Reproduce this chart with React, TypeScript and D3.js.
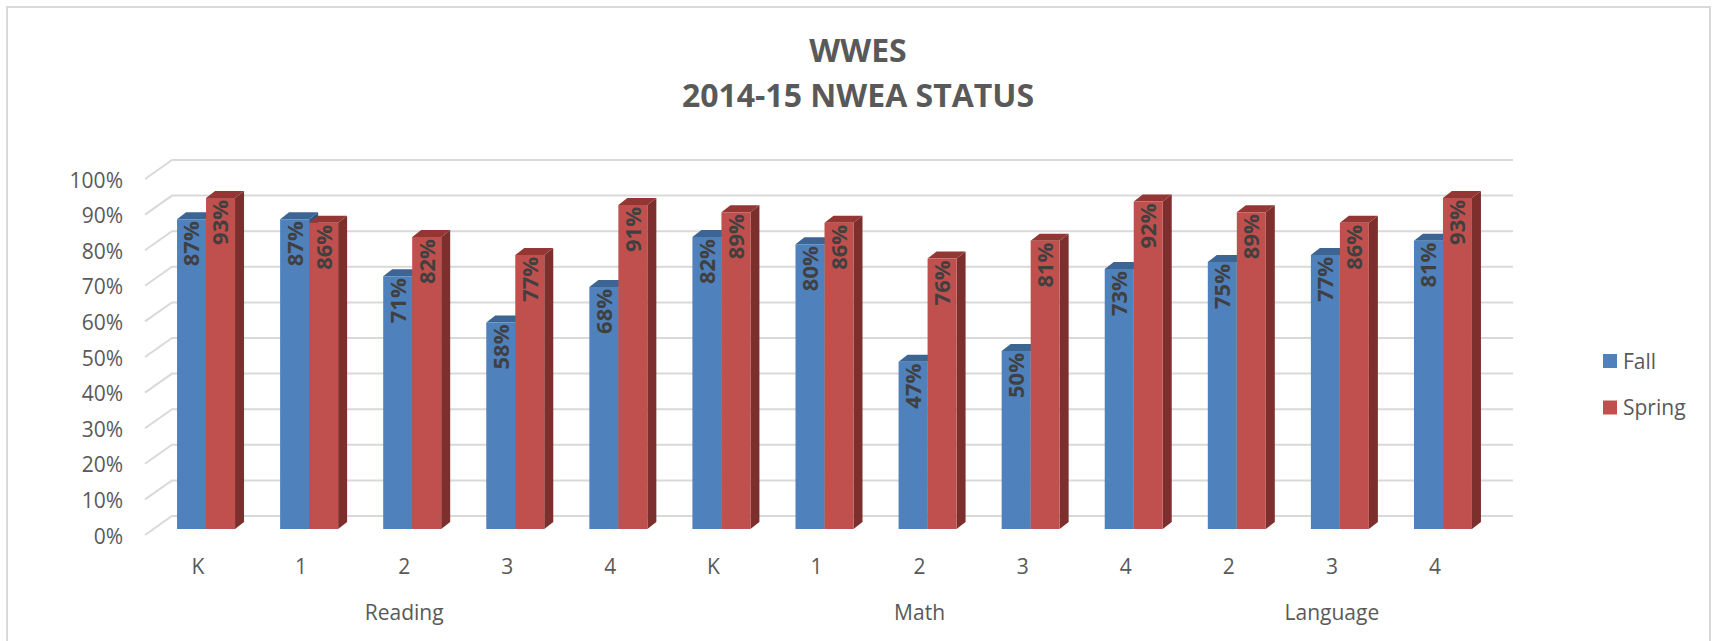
import React from "react";
import * as d3 from "d3";

const subjects = ["Reading", "Math", "Language"];
const grades = ["K", "1", "2", "3", "4", "K", "1", "2", "3", "4", "2", "3", "4"];
const subjectOf = [0, 0, 0, 0, 0, 1, 1, 1, 1, 1, 2, 2, 2];
const fallValues = [87, 87, 71, 58, 68, 82, 80, 47, 50, 73, 75, 77, 81];
const springValues = [93, 86, 82, 77, 91, 89, 86, 76, 81, 92, 89, 86, 93];
const seriesNames = ["Fall", "Spring"];
const yTicks = [0, 10, 20, 30, 40, 50, 60, 70, 80, 90, 100];
const titleLines = ["WWES", "2014-15 NWEA STATUS"];

const W = 1714;
const H = 641;
const FONT = "'Open Sans', 'DejaVu Sans', sans-serif";
const TEXT = "#595959";
const GRID = "#D9D9D9";

const colors = {
  Fall: { front: "#4F81BD", top: "#3C6593", side: "#2F5581" },
  Spring: { front: "#C0504D", top: "#943634", side: "#7C2F2D" },
};

export default function App() {
  const backY = d3.scaleLinear().domain([0, 100]).range([516, 160]);
  const backX0 = 172;
  const backX1 = 1513;
  const wallDx = -27;
  const wallDy = 19;
  const barY = d3.scaleLinear().domain([0, 100]).range([529, 173]);
  const xBand = d3
    .scaleBand<number>()
    .domain(grades.map((_, i) => i))
    .range([154.5, 1494.5]);
  const inner = d3.scaleBand<string>().domain(seriesNames).range([-29, 29]);
  const depthDx = 9;
  const depthDy = -7;

  const center = (i: number) => (xBand(i) as number) + xBand.bandwidth() / 2;
  const labelX = (i: number) => center(i) - 8;

  const subjectCenters = subjects.map((_, s) => {
    const idx = subjectOf.map((v, i) => (v === s ? i : -1)).filter((i) => i >= 0);
    return d3.mean(idx.map(labelX)) as number;
  });

  const bars: React.ReactNode[] = [];
  grades.forEach((_, i) => {
    seriesNames.forEach((name) => {
      const v = name === "Fall" ? fallValues[i] : springValues[i];
      const x0 = center(i) + (inner(name) as number);
      const x1 = x0 + inner.bandwidth();
      const yT = barY(v);
      const yB = barY(0);
      const c = colors[name as "Fall" | "Spring"];
      const front = `M${x0},${yT}L${x1},${yT}L${x1},${yB}L${x0},${yB}Z`;
      const top = `M${x0},${yT}L${x0 + depthDx},${yT + depthDy}L${x1 + depthDx},${yT + depthDy}L${x1},${yT}Z`;
      const side = `M${x1},${yT}L${x1 + depthDx},${yT + depthDy}L${x1 + depthDx},${yB + depthDy}L${x1},${yB}Z`;
      bars.push(
        <g key={`b-${i}-${name}`}>
          <path d={side} fill={c.side} />
          <path d={top} fill={c.top} />
          <path d={front} fill={c.front} />
        </g>
      );
    });
  });

  const labels: React.ReactNode[] = [];
  grades.forEach((_, i) => {
    seriesNames.forEach((name) => {
      const v = name === "Fall" ? fallValues[i] : springValues[i];
      const cx = center(i) + (inner(name) as number) + inner.bandwidth() / 2;
      const yT = barY(v);
      labels.push(
        <text
          key={`l-${i}-${name}`}
          transform={`translate(${cx},${yT}) rotate(-90)`}
          x={-2}
          dy="0.36em"
          textAnchor="end"
          fontFamily={FONT}
          fontWeight={700}
          fontSize={22}
          fill="#404040"
        >
          {`${v}%`}
        </text>
      );
    });
  });

  return (
    <div style={{ position: "absolute", left: 0, top: 0, width: W, height: H, background: "#fff" }}>
      <svg width={W} height={H} viewBox={`0 0 ${W} ${H}`} style={{ display: "block" }}>
        <rect x={0} y={0} width={W} height={H} fill="#fff" />
        <rect x={7} y={7} width={1703} height={700} fill="none" stroke={GRID} strokeWidth={2} />

        {titleLines.map((t, k) => (
          <text
            key={t}
            x={858}
            y={k === 0 ? 61.5 : 107}
            textAnchor="middle"
            fontFamily={FONT}
            fontWeight={700}
            fontSize={32}
            fill={TEXT}
          >
            {t}
          </text>
        ))}

        {yTicks.map((t) => (
          <g key={`g${t}`}>
            <path
              d={`M${backX0 + wallDx},${backY(t) + wallDy}L${backX0},${backY(t)}L${backX1},${backY(t)}`}
              fill="none"
              stroke={GRID}
              strokeWidth={2}
            />
            <text
              x={123}
              y={backY(t) + wallDy + 1}
              dy="0.36em"
              textAnchor="end"
              fontFamily={FONT}
              fontSize={21}
              fill={TEXT}
            >
              {`${t}%`}
            </text>
          </g>
        ))}

        {bars}
        {labels}

        {grades.map((g, i) => (
          <text
            key={`c${i}`}
            x={labelX(i)}
            y={573.5}
            textAnchor="middle"
            fontFamily={FONT}
            fontSize={21}
            fill={TEXT}
          >
            {g}
          </text>
        ))}
        {subjects.map((s, k) => (
          <text
            key={s}
            x={subjectCenters[k]}
            y={619.5}
            textAnchor="middle"
            fontFamily={FONT}
            fontSize={21}
            fill={TEXT}
          >
            {s}
          </text>
        ))}

        {seriesNames.map((name, k) => {
          const cy = 361 + k * 46.5;
          return (
            <g key={`lg${name}`}>
              <rect x={1603} y={cy - 7} width={14} height={14} fill={colors[name as "Fall" | "Spring"].front} />
              <text x={1623} y={cy + 7.5} fontFamily={FONT} fontSize={21} fill={TEXT}>
                {name}
              </text>
            </g>
          );
        })}
      </svg>
    </div>
  );
}
